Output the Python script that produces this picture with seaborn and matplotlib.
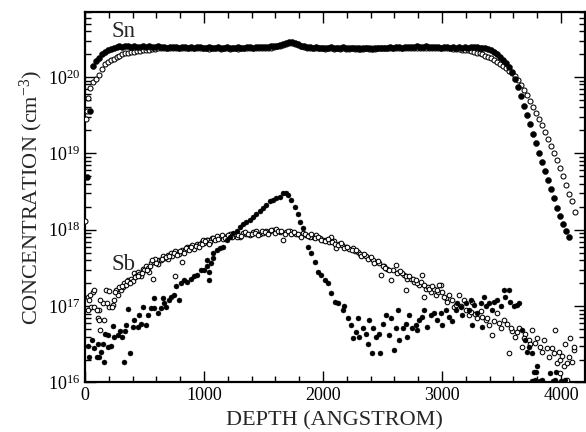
import numpy as np
import matplotlib
matplotlib.use("Agg")
import matplotlib.pyplot as plt
import matplotlib.ticker as mticker
import seaborn as sns

# ---------------- data (log10 of concentration, cm^-3) ----------------
# Sn, filled symbols: sampled every 25 A starting at 15 A
sn_filled_log = [
    18.69, 19.55, 20.15, 20.21, 20.25, 20.30, 20.33, 20.35, 20.37, 20.38,
    20.39, 20.40, 20.39, 20.40, 20.40, 20.39, 20.40, 20.39, 20.39, 20.40,
    20.39, 20.40, 20.39, 20.39, 20.40, 20.39, 20.39, 20.38, 20.39, 20.39,
    20.39, 20.38, 20.39, 20.39, 20.38, 20.39, 20.38, 20.39, 20.39, 20.38,
    20.38, 20.39, 20.38, 20.38, 20.39, 20.38, 20.38, 20.39, 20.38, 20.38,
    20.38, 20.39, 20.38, 20.38, 20.39, 20.39, 20.38, 20.39, 20.39, 20.39,
    20.39, 20.39, 20.40, 20.40, 20.41, 20.42, 20.43, 20.45, 20.46, 20.46,
    20.45, 20.43, 20.41, 20.40, 20.39, 20.39, 20.38, 20.39, 20.38, 20.38,
    20.38, 20.38, 20.39, 20.38, 20.38, 20.38, 20.39, 20.38, 20.38, 20.38,
    20.38, 20.38, 20.37, 20.38, 20.38, 20.38, 20.37, 20.38, 20.38, 20.38,
    20.38, 20.38, 20.39, 20.38, 20.39, 20.39, 20.38, 20.39, 20.39, 20.39,
    20.39, 20.40, 20.39, 20.39, 20.40, 20.39, 20.39, 20.39, 20.39, 20.38,
    20.39, 20.39, 20.38, 20.39, 20.38, 20.39, 20.38, 20.39, 20.38, 20.39,
    20.39, 20.39, 20.385,
    20.385, 20.38, 20.37, 20.355, 20.33, 20.30, 20.26, 20.225, 20.185, 20.13,
    20.06, 19.97, 19.87, 19.75, 19.62, 19.50, 19.38, 19.25, 19.13, 19.01,
    18.89, 18.77, 18.65, 18.54, 18.42, 18.29, 18.18, 18.07, 17.98, 17.91,
]

# Sn, open symbols: sampled every 25 A starting at 15 A
sn_open_log = [
    19.56, 19.85, 19.93, 19.97, 20.03, 20.11, 20.17, 20.20, 20.22, 20.24,
    20.26, 20.28, 20.295, 20.31, 20.32, 20.325, 20.33, 20.335, 20.34, 20.35,
    20.355, 20.36, 20.365, 20.37, 20.375,
    20.375, 20.38, 20.38, 20.375, 20.38, 20.38, 20.38, 20.375, 20.38, 20.38,
    20.38, 20.375, 20.38, 20.38, 20.375, 20.38, 20.37, 20.38, 20.375, 20.38,
    20.37, 20.38, 20.375, 20.37, 20.38, 20.375, 20.37, 20.38, 20.375, 20.38,
    20.38, 20.375, 20.38, 20.38, 20.38, 20.385, 20.38, 20.385, 20.39, 20.40,
    20.41, 20.42, 20.43, 20.44, 20.44, 20.43, 20.42, 20.40, 20.39, 20.385,
    20.38, 20.38, 20.375, 20.38, 20.375, 20.37, 20.38, 20.375, 20.37, 20.375,
    20.37, 20.375, 20.37, 20.37, 20.375, 20.37, 20.37, 20.375, 20.37, 20.375,
    20.37, 20.375, 20.37, 20.375, 20.38, 20.375, 20.38, 20.375, 20.38, 20.38,
    20.38, 20.385, 20.38, 20.38, 20.385, 20.38, 20.38, 20.38, 20.385, 20.38,
    20.38, 20.38, 20.375, 20.38, 20.375, 20.38, 20.375, 20.375, 20.37, 20.37,
    20.37, 20.36, 20.355, 20.35, 20.34, 20.33, 20.32, 20.31, 20.295, 20.28,
    20.265, 20.245, 20.225, 20.20, 20.175, 20.15, 20.12, 20.085, 20.05, 20.01,
    19.96, 19.89, 19.83, 19.76, 19.685, 19.61, 19.53, 19.45, 19.37, 19.28,
    19.19, 19.10, 19.01, 18.91, 18.81, 18.71, 18.59, 18.47, 18.38, 18.23,
]
# Sn open, first surface points
sn_open_surface_depth = [4, 8, 28]
sn_open_surface_log = [18.12, 19.45, 19.72]

# Sb, filled symbols
sb_filled_depth = [
    24, 38, 57, 80, 102, 113, 122, 136, 149, 163, 169, 191, 191, 219, 233, 247,
    275, 297, 308, 325, 336, 345, 364, 381, 401, 415, 442, 456, 470, 484, 512,
    526, 554, 582, 582, 610, 638, 652, 666, 680, 707, 721, 749, 763, 791, 805,
    833, 861, 889, 917, 945, 973, 1000, 1028, 1042, 1056, 1079,
    1045, 1022, 1078, 1106, 1134, 1162, 1190, 1218, 1246, 1274, 1301, 1329,
    1357, 1385, 1413, 1441, 1469, 1497, 1525, 1553, 1580, 1608, 1636, 1664,
    1687, 1706, 1734, 1762, 1790, 1804, 1832, 1874, 1901, 1929, 1957,
    1985, 2013, 2041, 2069, 2097, 2124, 2166, 2180, 2208, 2236, 2250, 2278,
    2292, 2306, 2334, 2362, 2376, 2390, 2412, 2417, 2445, 2473, 2479, 2501,
    2529, 2557, 2571, 2599, 2613, 2627, 2641, 2669, 2696, 2710, 2724, 2752,
    2780, 2794, 2808, 2836, 2850, 2878, 2906, 2934, 2962,
    2989, 3003, 3031, 3059, 3087, 3115, 3129, 3157, 3171, 3199, 3227, 3241,
    3255, 3268, 3296, 3324, 3338, 3352, 3366, 3394, 3422, 3436, 3464, 3492,
    3520, 3533, 3561, 3575, 3603, 3631, 3645, 3673, 3701, 3715, 3729, 3757,
    3771, 3785, 3799, 3840, 3910, 3952, 4036,
    3760, 3790, 3820, 3930, 3955, 4000, 3790,
]
sb_filled_log = [
    16.48, 16.34, 16.56, 16.45, 16.34, 16.50, 16.34, 16.40, 16.50, 16.27, 16.64,
    16.47, 16.62, 16.48, 16.74, 16.60, 16.62, 16.67, 16.60, 16.27, 16.67, 16.75,
    16.96, 16.38, 16.73, 16.82, 16.73, 16.88, 16.77, 16.99, 16.75, 16.88, 16.97,
    16.97, 17.10, 16.91, 16.97, 17.10, 17.04, 16.99, 17.08, 17.12, 17.15, 17.26,
    17.08, 17.30, 17.34, 17.32, 17.36, 17.39, 17.41, 17.47, 17.47, 17.52, 17.34,
    17.56, 17.63,
    17.45, 17.60, 17.69, 17.73, 17.76, 17.78, 17.87, 17.91, 17.96, 17.99, 18.04,
    18.08, 18.10, 18.13, 18.17, 18.21, 18.25, 18.28, 18.32, 18.37, 18.39, 18.41,
    18.43, 18.48, 18.48, 18.45, 18.39, 18.30, 18.21, 18.10, 18.02, 17.78, 17.69,
    17.58, 17.45,
    17.41, 17.34, 17.30, 17.17, 17.06, 17.04, 16.95, 17.00, 16.84, 16.75, 16.58,
    16.66, 16.84, 16.60, 16.71, 16.64, 16.51, 16.82, 16.39, 16.71, 16.60, 16.64,
    16.39, 16.77, 16.88, 16.62, 16.84, 16.43, 16.71, 16.95, 16.56, 16.71, 16.77,
    16.60, 16.88, 16.71, 16.75, 16.69, 16.82, 16.86, 16.95, 16.73, 16.88, 16.91,
    16.82,
    16.91, 16.75, 16.95, 16.86, 16.80, 16.95, 17.04, 16.99, 16.88, 17.04, 16.95,
    17.08, 16.75, 17.02, 16.91, 17.04, 16.73, 17.12, 17.00, 17.04, 16.95, 17.06,
    17.08, 17.00, 17.21, 17.12, 17.21, 17.06, 17.00, 17.02, 17.04, 16.69, 16.56,
    16.40, 16.47, 16.38, 16.14, 16.03, 16.21, 16.03, 16.13, 16.03, 16.03,
    16.02, 16.02, 16.02, 16.02, 16.14, 16.02, 16.14,
]

# Sb, open symbols
sb_open_depth = [
    24, 38, 52, 66, 80, 108, 122, 149, 177, 205, 233, 261, 275, 303, 331, 359,
    387, 414, 442, 470, 484, 512, 554, 568, 582, 624, 652, 694, 721, 755, 777,
    819, 819, 861, 903, 945, 987, 1028, 1070,
    23, 46, 74, 102, 130, 158, 186, 228, 240, 130, 116,
    590, 610, 640, 670, 700, 735, 760, 790, 840, 880, 920, 960, 1000, 1050,
    320, 345, 370, 400, 430, 455, 500, 530, 540,
    967, 1022, 1078, 1134, 1190, 1246, 1301, 1357, 1413, 1469, 1525, 1580,
    1636, 1664, 1692, 1748, 1804, 1860, 1915, 1971,
    995, 1050, 1106, 1162, 1218, 1274, 1329, 1385, 1441, 1497, 1553, 1608,
    1720, 1776, 1832, 1888, 1943, 2000,
    2027, 2069, 2111, 2138, 2194, 2250, 2292, 2334, 2390, 2445, 2487, 2515,
    2571, 2613, 2641, 2682, 2710, 2766, 2696, 2808, 2836, 2864, 2906, 2850,
    2948, 2989, 3031,
    2050, 2090, 2160, 2220, 2270, 2310, 2360, 2420, 2470, 2540, 2590, 2660,
    2740, 2790, 2880, 2930, 2970,
    2976, 3017, 3059, 3101, 3143, 3185, 3227, 3255, 3296, 3324, 3366, 3394,
    3422, 3464, 3492, 3520, 3547, 3561, 3589, 3617, 3645, 3673, 3701, 3729,
    3757, 3799, 3827, 3854, 3896, 3924, 3952, 3966, 3994, 4022, 4036, 4050,
    4078, 4092, 4106, 3994, 4050,
    3040, 3080, 3120, 3160, 3200, 3240, 3280, 3340, 3380, 3440, 3480, 3580,
    3630, 3690, 3740, 3780, 3840, 3880, 3940, 3980, 4010, 4070, 4110,
    560, 600, 650, 680, 710, 745, 770, 800, 830, 850, 870, 895, 930, 955,
    980, 1010, 1040, 1090, 1120, 1150, 1180, 1205, 1235, 1260, 1290, 1315,
    1345, 1370, 1400, 1430, 1455, 1485, 1510, 1540, 1565, 1595, 1620, 1650,
    1680, 1705, 1735, 1760, 1790, 1815, 1845, 1875, 1900, 1930, 1955, 1985,
    2015, 2040, 2075, 2100, 2125, 2150, 2180, 2205, 2240, 2280, 2320, 2345,
    2380, 2405, 2430, 2460, 2500, 2525, 2555, 2620, 2650, 2700, 2725, 2755,
    2780, 2820, 2850, 2890, 2920, 2960, 3000,
    200, 250, 290, 310, 350, 380, 420, 445, 480, 520, 545,
]
sb_open_log = [
    17.12, 17.08, 16.99, 17.19, 16.99, 16.84, 16.95, 17.04, 17.21, 16.99, 17.01,
    17.21, 17.15, 17.21, 17.30, 17.34, 17.36, 17.43, 17.45, 17.39, 17.49, 17.52,
    17.56, 17.36, 17.58, 17.60, 17.65, 17.67, 17.69, 17.39, 17.71, 17.73, 17.58,
    17.78, 17.80, 17.82, 17.84, 17.87, 17.89,
    16.95, 17.15, 17.21, 16.95, 17.08, 16.82, 17.04, 16.99, 17.08, 16.69, 16.82,
    17.62, 17.55, 17.60, 17.63, 17.62, 17.66, 17.72, 17.68, 17.74, 17.77, 17.75,
    17.80, 17.83, 17.86,
    17.25, 17.28, 17.31, 17.33, 17.40, 17.42, 17.47, 17.50, 17.45,
    17.82, 17.87, 17.89, 17.91, 17.92, 17.93, 17.90, 17.95, 17.97, 17.95, 17.99,
    18.00, 17.97, 17.87, 17.97, 17.96, 17.93, 17.93, 17.91, 17.89,
    17.86, 17.84, 17.92, 17.88, 17.95, 17.91, 17.96, 17.93, 17.99, 17.96, 17.98,
    18.01, 17.99, 17.94, 17.96, 17.90, 17.93, 17.86,
    17.87, 17.91, 17.76, 17.82, 17.78, 17.76, 17.71, 17.67, 17.63, 17.58, 17.41,
    17.52, 17.34, 17.54, 17.45, 17.41, 17.36, 17.32, 17.21, 17.28, 17.41, 17.23,
    17.19, 17.12, 17.14, 17.28, 17.10,
    17.84, 17.85, 17.80, 17.75, 17.72, 17.68, 17.66, 17.60, 17.56, 17.49, 17.47,
    17.43, 17.36, 17.30, 17.25, 17.22, 17.18,
    17.28, 17.12, 17.14, 16.99, 17.14, 17.08, 16.88, 17.06, 16.84, 16.93, 16.82,
    16.75, 16.62, 16.91, 16.71, 16.82, 16.77, 16.38, 16.67, 16.60, 16.71, 16.47,
    16.64, 16.56, 16.69, 16.58, 16.47, 16.56, 16.34, 16.45, 16.69, 16.25, 16.30,
    16.21, 16.51, 16.25, 16.58, 16.27, 16.43, 16.12, 16.03,
    17.05, 17.08, 17.02, 17.00, 16.95, 16.92, 16.90, 16.86, 16.85, 16.80, 16.78,
    16.72, 16.66, 16.58, 16.50, 16.52, 16.40, 16.45, 16.38, 16.40, 16.35, 16.33,
    16.46,
    17.60, 17.57, 17.62, 17.64, 17.66, 17.70, 17.67, 17.72, 17.70, 17.76, 17.74,
    17.78, 17.79, 17.77, 17.81, 17.85, 17.82, 17.87, 17.88, 17.93, 17.89, 17.93,
    17.90, 17.95, 17.93, 17.92, 17.97, 17.94, 17.95, 17.96, 17.93, 17.98, 17.97,
    17.95, 18.00, 17.96, 17.99, 17.98, 17.95, 17.99, 17.94, 17.97, 17.95, 17.91,
    17.94, 17.92, 17.94, 17.89, 17.91, 17.87, 17.85, 17.88, 17.84, 17.82, 17.80,
    17.83, 17.76, 17.78, 17.73, 17.74, 17.66, 17.68, 17.62, 17.64, 17.57, 17.59,
    17.53, 17.50, 17.47, 17.44, 17.46, 17.39, 17.40, 17.35, 17.34, 17.32, 17.28,
    17.22, 17.26, 17.21, 17.18,
    17.20, 17.18, 17.25, 17.27, 17.33, 17.30, 17.38, 17.40, 17.44, 17.47, 17.52,
]

x_ticks = [0, 1000, 2000, 3000, 4000]
x_label = "DEPTH (ANGSTROM)"
y_label = "CONCENTRATION (cm$^{-3}$)"

# ---------------- style ----------------
sns.set_style("ticks")
plt.rcParams["font.family"] = ["Liberation Serif", "DejaVu Serif"]
plt.rcParams["mathtext.fontset"] = "custom"
plt.rcParams["mathtext.rm"] = "Liberation Serif"
plt.rcParams["mathtext.it"] = "Liberation Serif:italic"
plt.rcParams["mathtext.bf"] = "Liberation Serif:bold"

fig = plt.figure(figsize=(5.86, 4.32), dpi=100)
ax = fig.add_axes([0.1450, 0.1146, 0.8530, 0.8576])

sn_f = np.array(sn_filled_log)
sn_o = np.array(sn_open_log)
sn_f_depth = 15 + 25 * np.arange(len(sn_f))
sn_o_depth = 15 + 25 * np.arange(len(sn_o))

open_kw = dict(color="white", edgecolor="black", linewidth=0.75, s=11,
               marker="o", ax=ax, zorder=3, legend=False)
fill_kw = dict(color="black", edgecolor="black", linewidth=0.3, s=13,
               marker="o", ax=ax, zorder=4, legend=False)
sn_fill_kw = dict(fill_kw, s=19)
sn_open_kw = dict(open_kw, s=13)

sns.scatterplot(x=sn_o_depth, y=10.0 ** sn_o, **sn_open_kw)
sns.scatterplot(x=np.array(sn_open_surface_depth),
                y=10.0 ** np.array(sn_open_surface_log), **sn_open_kw)
sns.scatterplot(x=np.array(sb_open_depth), y=10.0 ** np.array(sb_open_log), **open_kw)
sns.scatterplot(x=sn_f_depth, y=10.0 ** sn_f, **sn_fill_kw)
sns.scatterplot(x=np.array(sb_filled_depth), y=10.0 ** np.array(sb_filled_log), **fill_kw)

ax.set_yscale("log")
ax.set_xlim(0, 4200)
ax.set_ylim(1e16, 7.1e20)

ax.set_xticks(x_ticks)
ax.xaxis.set_minor_locator(mticker.MultipleLocator(200))
ax.yaxis.set_major_locator(mticker.LogLocator(base=10, numticks=20))
ax.yaxis.set_minor_locator(mticker.LogLocator(base=10, subs=np.arange(2, 10), numticks=20))
ax.yaxis.set_minor_formatter(mticker.NullFormatter())

ax.tick_params(which="both", direction="in", top=True, right=True,
               labelsize=13, width=1.0, color="black", labelcolor="black")
ax.tick_params(which="major", length=8)
ax.tick_params(which="minor", length=4)
for sp in ax.spines.values():
    sp.set_linewidth(1.6)
    sp.set_color("black")
    sp.set_visible(True)

ax.set_xlabel(x_label, fontsize=16, labelpad=5)
ax.set_ylabel(y_label, fontsize=16, labelpad=2)

ax.text(322, 10 ** 20.60, "Sn", fontsize=16.5, ha="center", va="center")
ax.text(322, 10 ** 17.55, "Sb", fontsize=16.5, ha="center", va="center")

fig.savefig("out.png", dpi=100)
